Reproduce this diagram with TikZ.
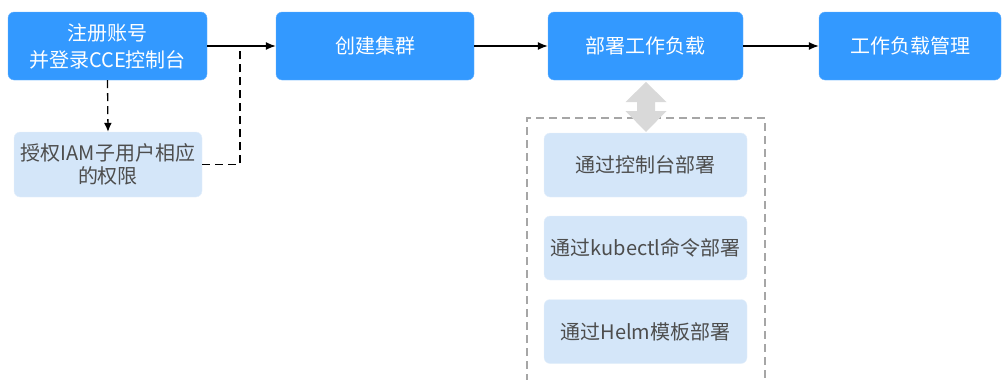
\documentclass[tikz,border=0pt]{standalone}
\usepackage{fontspec}
\setmainfont{Noto Sans CJK SC}
\usetikzlibrary{arrows.meta,positioning}
\definecolor{hwblue}{HTML}{3399FF}
\definecolor{hwlight}{HTML}{D4E6F9}
\definecolor{hwtext}{HTML}{4D4D4D}
\definecolor{hwgray}{HTML}{D9D9D9}
\definecolor{hwdash}{HTML}{A6A6A6}
\tikzset{
  mainbox/.style={fill=hwblue,draw=hwblue!75!white,rounded corners=6pt,text=white,
    minimum height=68pt,align=center,inner sep=0pt,font=\fontsize{20}{27}\selectfont},
  subbox/.style={fill=hwlight,draw=hwlight!60!white,rounded corners=6pt,text=hwtext,
    minimum height=64pt,align=center,inner sep=0pt,font=\fontsize{20}{23}\selectfont},
  flow/.style={line width=1.3pt,-{Latex[length=10pt,width=8pt]}},
  dashflow/.style={line width=1.3pt,dash pattern=on 8pt off 5pt},
}

\begin{document}
\begin{tikzpicture}[x=1pt,y=-1pt]
\useasboundingbox (0,0) rectangle (1005,380);

% top row
\node [mainbox,minimum width=199pt] (login) at (107.5,46) {注册账号\\并登录CCE控制台};
\node [mainbox,minimum width=198pt] (cluster) at (375,46) {创建集群};
\node [mainbox,minimum width=195pt] (deploy) at (645.5,46) {部署工作负载};
\node [mainbox,minimum width=182pt] (manage) at (910,46) {工作负载管理};

% IAM branch
\node [subbox,minimum width=188pt,minimum height=65pt] (iam) at (108,164.5) {授权IAM子用户相应\\的权限};
\coordinate (join) at (240,46);

\draw [flow] (login) -- (cluster);
\draw [flow] (cluster) -- (deploy);
\draw [flow] (deploy) -- (manage);
\draw [dashflow,-{Latex[length=9pt,width=8pt]}] (login.south) -- (iam.north);
\draw [dashflow] (iam.east) -| (join);

% deployment ways
\node [subbox,minimum width=203pt] (console) at (645.5,165) {通过控制台部署};
\node [subbox,minimum width=203pt] (kubectl) at (645.5,248) {通过kubectl命令部署};
\node [subbox,minimum width=203pt] (helm) at (645.5,331.5) {通过Helm模板部署};

\draw [hwdash,line width=1.4pt,dash pattern=on 8pt off 5pt]
  (527,382) -- (527,118) -- (765,118) -- (765,382);

% gray double arrow
\fill [hwgray] (646,82) -- (666.5,102) -- (655,102) -- (655,111) -- (666.5,111)
  -- (646,132) -- (625.5,111) -- (637,111) -- (637,102) -- (625.5,102) -- cycle;
\end{tikzpicture}
\end{document}
